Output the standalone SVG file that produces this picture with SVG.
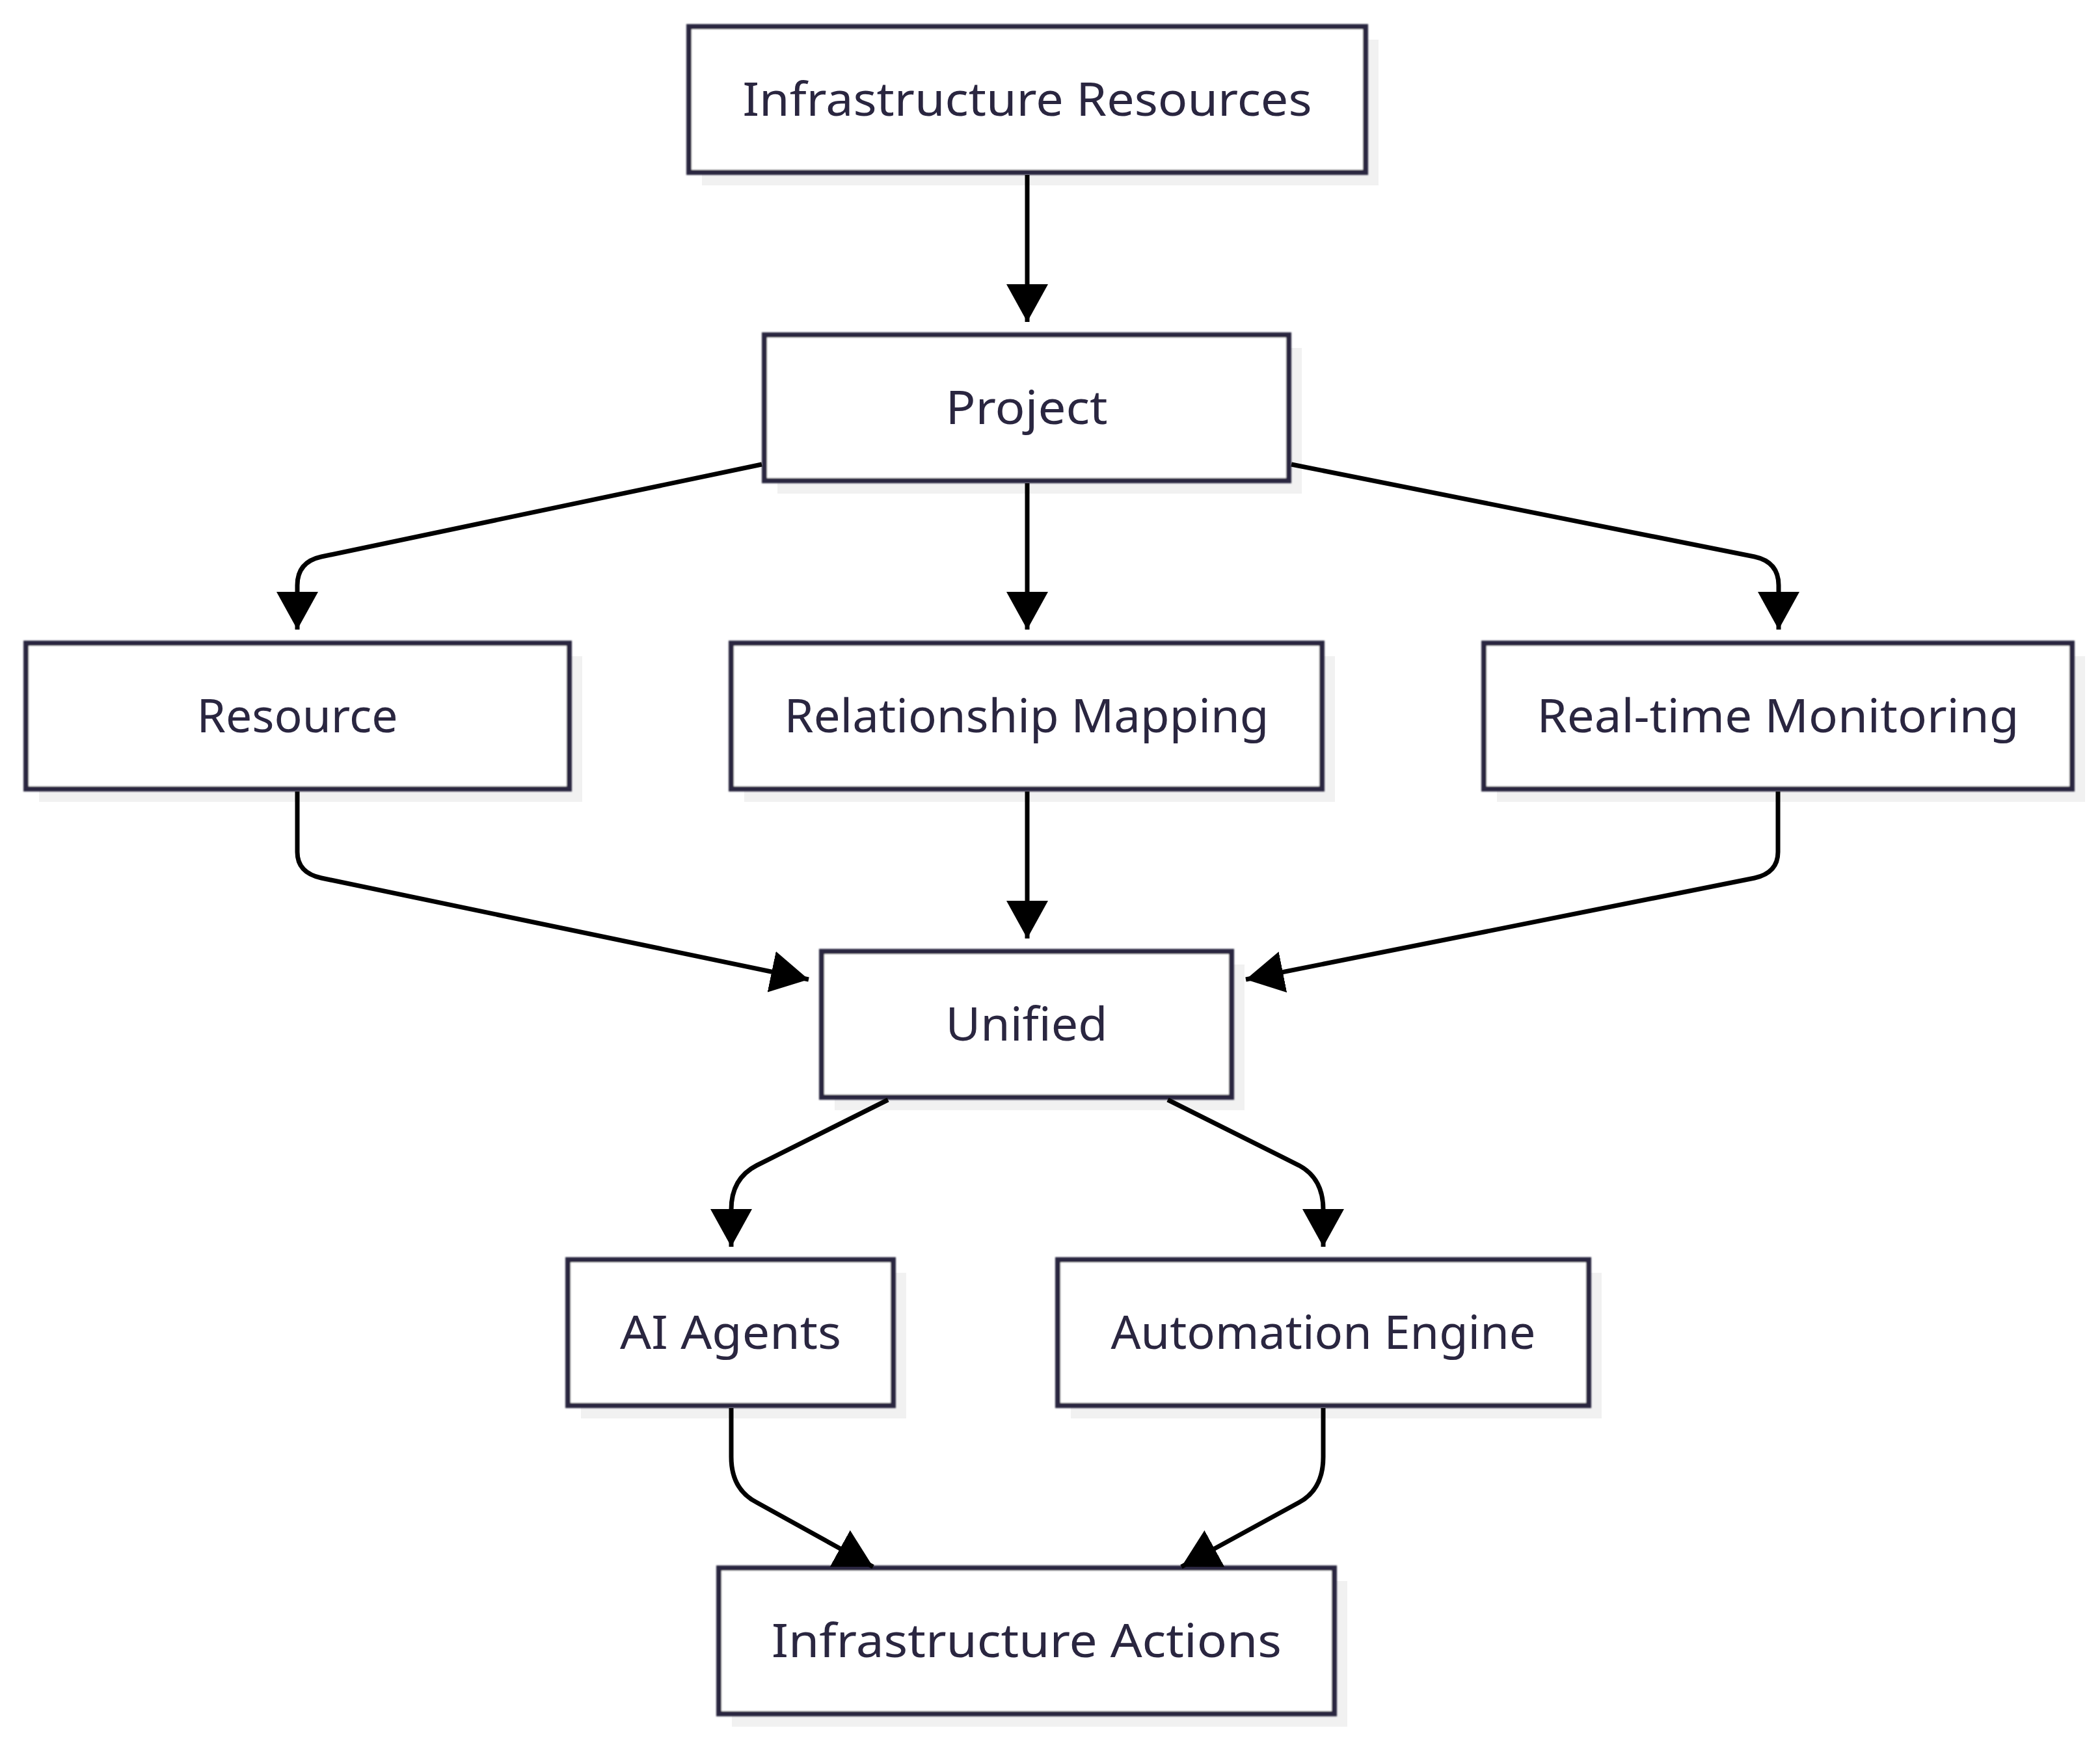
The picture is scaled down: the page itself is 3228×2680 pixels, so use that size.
<svg xmlns="http://www.w3.org/2000/svg" width="3228" height="2680" viewBox="0 0 3228 2680">
<defs>
<style>
.sh{fill:#f1f1f1;}
.box{fill:#ffffff;stroke:#2b2840;stroke-width:8;filter:url(#soft);}
.lbl{font-family:"Noto Sans","Open Sans","Liberation Sans",sans-serif;font-size:72px;fill:#2a2640;text-anchor:middle;}
.edge{fill:none;stroke:#000000;stroke-width:7;marker-end:url(#arr);}
</style>
<filter id="soft" x="-5%" y="-5%" width="110%" height="110%"><feGaussianBlur stdDeviation="1.3"/></filter>
<marker id="arr" markerUnits="userSpaceOnUse" markerWidth="60" markerHeight="64" viewBox="0 0 60 64" refX="58" refY="32" orient="auto">
<path d="M0,0 L58,32 L0,64 z" fill="#000000"/>
</marker>
</defs>
<rect width="3228" height="2680" fill="#ffffff"/>
<g id="node-infra-resources">
<rect class="sh" x="1079" y="61" width="1040" height="224"/>
<rect class="box" x="1059" y="41" width="1040" height="224"/>
<text class="lbl" x="1579" y="178" textLength="875" lengthAdjust="spacingAndGlyphs">Infrastructure Resources</text>
</g>
<g id="node-project">
<rect class="sh" x="1195" y="535" width="806" height="224"/>
<rect class="box" x="1175" y="515" width="806" height="224"/>
<text class="lbl" x="1578" y="652" textLength="249" lengthAdjust="spacingAndGlyphs">Project</text>
</g>
<g id="node-resource">
<rect class="sh" x="60" y="1009" width="835" height="224"/>
<rect class="box" x="40" y="989" width="835" height="224"/>
<text class="lbl" x="457" y="1126" textLength="309" lengthAdjust="spacingAndGlyphs">Resource</text>
</g>
<g id="node-relationship-mapping">
<rect class="sh" x="1144" y="1009" width="908" height="224"/>
<rect class="box" x="1124" y="989" width="908" height="224"/>
<text class="lbl" x="1578" y="1126" textLength="745" lengthAdjust="spacingAndGlyphs">Relationship Mapping</text>
</g>
<g id="node-realtime-monitoring">
<rect class="sh" x="2301" y="1009" width="904" height="224"/>
<rect class="box" x="2281" y="989" width="904" height="224"/>
<text class="lbl" x="2733" y="1126" textLength="741" lengthAdjust="spacingAndGlyphs">Real-time Monitoring</text>
</g>
<g id="node-unified">
<rect class="sh" x="1283" y="1483" width="630" height="224"/>
<rect class="box" x="1263" y="1463" width="630" height="224"/>
<text class="lbl" x="1578" y="1600" textLength="249" lengthAdjust="spacingAndGlyphs">Unified</text>
</g>
<g id="node-ai-agents">
<rect class="sh" x="893" y="1957" width="500" height="224"/>
<rect class="box" x="873" y="1937" width="500" height="224"/>
<text class="lbl" x="1123" y="2074" textLength="340" lengthAdjust="spacingAndGlyphs">AI Agents</text>
</g>
<g id="node-automation-engine">
<rect class="sh" x="1646" y="1957" width="816" height="224"/>
<rect class="box" x="1626" y="1937" width="816" height="224"/>
<text class="lbl" x="2034" y="2074" textLength="653" lengthAdjust="spacingAndGlyphs">Automation Engine</text>
</g>
<g id="node-infra-actions">
<rect class="sh" x="1125" y="2431" width="946" height="224"/>
<rect class="box" x="1105" y="2411" width="946" height="224"/>
<text class="lbl" x="1578" y="2548" textLength="784" lengthAdjust="spacingAndGlyphs">Infrastructure Actions</text>
</g>
<g id="connectors">
<path class="edge" d="M1579,269 L1579,495"/>
<path class="edge" d="M1171,714 L494,856 Q457,864 457,900 L457,968"/>
<path class="edge" d="M1579,743 L1579,968"/>
<path class="edge" d="M1985,714 L2697,856 Q2734,864 2734,900 L2734,968"/>
<path class="edge" d="M457,1217 L457,1310 Q457,1342 494,1350 L1243,1506"/>
<path class="edge" d="M1579,1217 L1579,1443"/>
<path class="edge" d="M2733,1217 L2733,1310 Q2733,1342 2697,1350 L1915,1506"/>
<path class="edge" d="M1365,1691 L1163,1792 Q1124,1812 1124,1860 L1124,1917"/>
<path class="edge" d="M1795,1691 L1997,1792 Q2034,1812 2034,1860 L2034,1917"/>
<path class="edge" d="M1124,2165 L1124,2240 Q1124,2290 1163,2310 L1342,2409"/>
<path class="edge" d="M2034,2165 L2034,2240 Q2034,2290 1997,2310 L1816,2409"/>
</g>
</svg>
